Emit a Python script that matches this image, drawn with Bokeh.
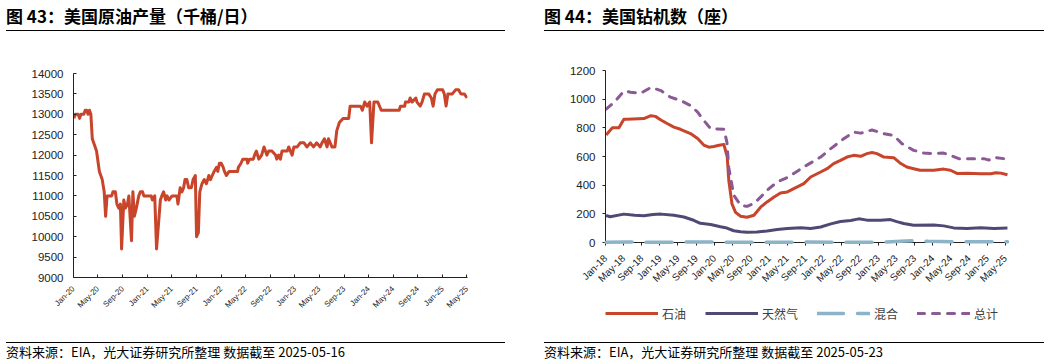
import math
import pandas as pd
from bokeh.plotting import figure
from bokeh.models import (FixedTicker, DatetimeTickFormatter, Range1d, Legend,
                          LegendItem, Div, Spacer)
from bokeh.layouts import row, column
from bokeh.embed import file_html
from bokeh.resources import INLINE

# ---------------- 图 43: 美国原油产量（千桶/日） ----------------
prod_dates = [
    "2020-01-03", "2020-01-10", "2020-01-24", "2020-01-31", "2020-02-07", "2020-02-21",
    "2020-02-28", "2020-03-06", "2020-03-13", "2020-03-20", "2020-03-27", "2020-04-03",
    "2020-04-24", "2020-05-08", "2020-05-22", "2020-06-01", "2020-06-08", "2020-06-15",
    "2020-07-08", "2020-07-14", "2020-07-26", "2020-08-03", "2020-08-12", "2020-08-20",
    "2020-08-26", "2020-09-06", "2020-09-14", "2020-09-24", "2020-10-01", "2020-10-14",
    "2020-10-21", "2020-10-28", "2020-11-07", "2020-11-19", "2020-11-27", "2020-12-08",
    "2020-12-14", "2021-01-20", "2021-01-25", "2021-02-06", "2021-02-15", "2021-03-06",
    "2021-03-13", "2021-03-22", "2021-04-01", "2021-04-08", "2021-04-18", "2021-05-03",
    "2021-05-27", "2021-06-01", "2021-06-12", "2021-06-21", "2021-06-29", "2021-07-06",
    "2021-07-15", "2021-07-24", "2021-08-06", "2021-08-15", "2021-08-26", "2021-09-01",
    "2021-09-10", "2021-09-17", "2021-09-28", "2021-10-09", "2021-10-20", "2021-11-01",
    "2021-11-09", "2021-11-18", "2021-11-27", "2021-12-09", "2021-12-15", "2021-12-23",
    "2022-01-01", "2022-01-11", "2022-01-17", "2022-01-27", "2022-02-09", "2022-03-23",
    "2022-03-27", "2022-04-09", "2022-04-18", "2022-05-09", "2022-05-12", "2022-05-21",
    "2022-06-09", "2022-06-15", "2022-06-24", "2022-07-06", "2022-07-20", "2022-08-01",
    "2022-08-15", "2022-08-24", "2022-09-09", "2022-09-27", "2022-10-03", "2022-10-12",
    "2022-10-21", "2022-10-29", "2022-11-24", "2022-12-01", "2022-12-18", "2022-12-27",
    "2023-01-12", "2023-01-27", "2023-02-15", "2023-03-01", "2023-03-18", "2023-04-03",
    "2023-04-18", "2023-05-06", "2023-05-15", "2023-05-27", "2023-06-09", "2023-06-16",
    "2023-07-03", "2023-07-18", "2023-07-27", "2023-08-09", "2023-08-27", "2023-09-24",
    "2023-10-01", "2023-11-21", "2023-12-01", "2023-12-12", "2023-12-24", "2024-01-06",
    "2024-01-15", "2024-01-27", "2024-02-15", "2024-03-03", "2024-05-31", "2024-06-06",
    "2024-06-27", "2024-07-01", "2024-07-18", "2024-07-24", "2024-08-03", "2024-08-21",
    "2024-08-27", "2024-09-12", "2024-09-21", "2024-10-03", "2024-10-24", "2024-11-06",
    "2024-11-15", "2024-11-24", "2024-12-06", "2025-01-01", "2025-01-09", "2025-01-18",
    "2025-01-27", "2025-02-18", "2025-03-06", "2025-03-21", "2025-04-01", "2025-04-18",
    "2025-05-02",
]
prod_kbd = [
    12900, 13000, 13000, 12900, 13000, 13000,
    13100, 13100, 13000, 13100, 13000, 12400,
    12100, 11600, 11400, 11100, 10500, 11000,
    11000, 11100, 11100, 10800, 10700, 10800,
    9700, 10900, 10700, 10800, 11000, 9900,
    11100, 10500, 10700, 11000, 11100, 11100,
    11000, 11000, 10900, 11000, 9700, 10900,
    11000, 11100, 10900, 11000, 10900, 11000,
    11000, 10800, 11200, 11100, 11200, 11400,
    11400, 11200, 11200, 11400, 11500, 10000,
    10100, 11100, 11300, 11400, 11300, 11500,
    11400, 11500, 11600, 11700, 11600, 11800,
    11800, 11700, 11600, 11500, 11600, 11600,
    11700, 11800, 11900, 11900, 11800, 11900,
    11900, 12000, 12100, 11900, 12000, 12200,
    12000, 12100, 12100, 12000, 11900, 12000,
    11900, 12100, 12100, 12200, 12000, 12200,
    12200, 12300, 12300, 12200, 12300, 12200,
    12300, 12200, 12300, 12400, 12200, 12400,
    12200, 12200, 12600, 12800, 12900, 12900,
    13200, 13200, 13100, 13300, 13200, 13300,
    12300, 13300, 13300, 13100, 13100, 13200,
    13200, 13300, 13300, 13400, 13300, 13400,
    13300, 13200, 13300, 13500, 13500, 13400,
    13200, 13500, 13600, 13600, 13500, 13200,
    13500, 13500, 13600, 13600, 13500, 13500,
    13400,
]
prod_ticks = [
    "2020-01-01", "2020-05-01", "2020-09-01", "2021-01-01", "2021-05-01", "2021-09-01",
    "2022-01-01", "2022-05-01", "2022-09-01", "2023-01-01", "2023-05-01", "2023-09-01",
    "2024-01-01", "2024-05-01", "2024-09-01", "2025-01-01", "2025-05-01",
]
prod_yticks = [9000, 9500, 10000, 10500, 11000, 11500, 12000, 12500, 13000, 13500, 14000]
prod_xstart, prod_xend = "2020-01-01", "2025-05-04"

# ---------------- 图 44: 美国钻机数（座） ----------------
oil_dates = [
    "2018-01-05", "2018-02-16", "2018-04-01", "2018-05-04", "2018-05-25", "2018-09-15",
    "2018-11-01", "2018-12-01", "2019-01-07", "2019-02-18", "2019-04-04", "2019-05-18",
    "2019-07-24", "2019-09-10", "2019-10-21", "2019-11-24", "2019-12-27", "2020-02-01",
    "2020-03-04", "2020-03-26", "2020-04-06", "2020-04-27", "2020-05-21", "2020-06-24",
    "2020-08-06", "2020-09-21", "2020-11-06", "2020-12-18", "2021-02-03", "2021-03-18",
    "2021-05-03", "2021-06-15", "2021-08-21", "2021-10-06", "2021-12-12", "2022-01-24",
    "2022-03-09", "2022-04-24", "2022-06-06", "2022-07-21", "2022-09-06", "2022-10-18",
    "2022-11-21", "2022-12-24", "2023-02-09", "2023-04-15", "2023-05-27", "2023-07-12",
    "2023-08-27", "2023-10-09", "2024-01-09", "2024-03-15", "2024-04-29", "2024-06-12",
    "2024-08-18", "2024-11-18", "2025-01-24", "2025-02-27", "2025-04-01", "2025-05-16",
]
oil_rigs = [
    750, 800, 800, 860, 860, 865,
    885, 880, 855, 830, 805, 790,
    760, 725, 680, 665, 670, 678,
    683, 600, 430, 270, 210, 183,
    176, 190, 248, 283, 318, 346,
    353, 376, 411, 457, 492, 515,
    550, 573, 596, 608, 601, 620,
    628, 620, 596, 592, 555, 527,
    515, 504, 504, 512, 504, 482,
    484, 480, 480, 487, 484, 473,
]
gas_dates = [
    "2018-01-05", "2018-02-01", "2018-05-04", "2018-07-15", "2018-09-15", "2018-11-15",
    "2019-01-07", "2019-04-04", "2019-06-10", "2019-08-15", "2019-09-28", "2019-12-06",
    "2020-02-10", "2020-03-24", "2020-05-09", "2020-06-24", "2020-08-06", "2020-10-12",
    "2020-12-18", "2021-02-24", "2021-05-03", "2021-08-01", "2021-10-06", "2021-12-12",
    "2022-02-18", "2022-04-24", "2022-07-01", "2022-08-24", "2022-10-18", "2023-01-18",
    "2023-03-24", "2023-05-06", "2023-06-21", "2023-08-27", "2024-01-09", "2024-03-15",
    "2024-05-21", "2024-08-18", "2024-11-18", "2025-02-15", "2025-05-16",
]
gas_rigs = [
    188, 180, 198, 190, 186, 196,
    198, 190, 178, 155, 134, 126,
    110, 101, 82, 75, 71, 74,
    81, 90, 97, 103, 98, 108,
    130, 146, 154, 165, 156, 155,
    160, 146, 133, 120, 122, 116,
    102, 98, 103, 98, 101,
]
misc_dates = [
    "2018-01-05", "2018-06-01", "2018-12-01", "2019-06-01", "2019-12-01", "2020-04-01",
    "2020-09-01", "2021-03-01", "2021-09-01", "2022-03-01", "2022-09-01", "2023-03-01",
    "2023-06-01", "2023-09-01", "2023-12-01", "2024-06-01", "2024-12-01", "2025-05-16",
]
misc_rigs = [2, 3, 2, 3, 4, 2, 1, 2, 3, 2, 2, 3, 9, 13, 8, 5, 6, 5]
total_dates = [
    "2018-01-05", "2018-03-01", "2018-05-04", "2018-06-18", "2018-08-24", "2018-11-01",
    "2019-01-07", "2019-03-12", "2019-05-18", "2019-07-24", "2019-09-10", "2019-10-21",
    "2019-12-06", "2020-03-04", "2020-03-24", "2020-04-06", "2020-05-09", "2020-06-24",
    "2020-08-06", "2020-09-21", "2020-11-06", "2020-12-18", "2021-02-24", "2021-05-03",
    "2021-08-21", "2021-12-12", "2022-02-18", "2022-05-15", "2022-07-21", "2022-09-06",
    "2022-11-21", "2023-02-09", "2023-04-15", "2023-06-09", "2023-08-27", "2023-11-03",
    "2024-01-09", "2024-03-15", "2024-04-29", "2024-06-24", "2024-09-12", "2024-12-09",
    "2025-01-12", "2025-02-15", "2025-04-21", "2025-05-16",
]
total_rigs = [
    930, 979, 1056, 1049, 1041, 1082,
    1060, 1014, 991, 956, 910, 852,
    794, 790, 700, 520, 330, 260,
    252, 272, 318, 364, 422, 453,
    527, 596, 655, 724, 770, 763,
    785, 759, 747, 690, 643, 624,
    620, 624, 608, 585, 585, 585,
    575, 594, 585, 578,
]
rig_ticks = [
    "2018-01-01", "2018-05-01", "2018-09-01", "2019-01-01", "2019-05-01", "2019-09-01",
    "2020-01-01", "2020-05-01", "2020-09-01", "2021-01-01", "2021-05-01", "2021-09-01",
    "2022-01-01", "2022-05-01", "2022-09-01", "2023-01-01", "2023-05-01", "2023-09-01",
    "2024-01-01", "2024-05-01", "2024-09-01", "2025-01-01", "2025-05-01",
]
rig_yticks = [0, 200, 400, 600, 800, 1000, 1200]
rig_xstart, rig_xend = "2018-01-01", "2025-05-23"

legend_labels = ["石油", "天然气", "混合", "总计"]

title1 = "图 43：美国原油产量（千桶/日）"
title2 = "图 44：美国钻机数（座）"
source1 = "资料来源：EIA，光大证券研究所整理 数据截至 2025-05-16"
source2 = "资料来源：EIA，光大证券研究所整理 数据截至 2025-05-23"

# ---------------- styling ----------------
RED = "#C8442A"
GAS = "#4E4A74"
MIX = "#8CB3C7"
TOT = "#8B5A95"
AX = "#222222"
CJK = "Noto Sans CJK SC"
LAT = "Liberation Sans"

STYLES = {
    "oil": dict(line_color=RED, line_width=3, line_join="round"),
    "gas": dict(line_color=GAS, line_width=3, line_join="round"),
    "mix": dict(line_color=MIX, line_width=3.5, line_dash="26 14", line_cap="round"),
    "tot": dict(line_color=TOT, line_width=3, line_dash="7 8", line_cap="round",
                line_join="round"),
}


def ts(dates):
    return pd.to_datetime(dates)


def ms(dates):
    return [pd.Timestamp(d).value / 1e6 for d in dates]


fmt = DatetimeTickFormatter(
    microseconds="%b-%y", milliseconds="%b-%y", seconds="%b-%y", minsec="%b-%y",
    minutes="%b-%y", hourmin="%b-%y", hours="%b-%y", days="%b-%y",
    months="%b-%y", years="%b-%y",
)


def clean(p):
    p.grid.visible = False
    p.outline_line_color = None
    p.background_fill_color = "white"
    p.border_fill_color = "white"


def style_axes(p, tick_in, tick_out, xfont, yfont, xstand, ystand):
    for ax in (p.xaxis[0], p.yaxis[0]):
        ax.axis_line_color = AX
        ax.axis_line_width = 1
        ax.major_tick_line_color = AX
        ax.minor_tick_line_color = None
        ax.major_tick_in = tick_in
        ax.major_tick_out = tick_out
        ax.major_label_text_color = AX
        ax.major_label_text_font = LAT
    p.xaxis[0].major_label_text_font_size = xfont
    p.yaxis[0].major_label_text_font_size = yfont
    p.xaxis[0].major_label_standoff = xstand
    p.yaxis[0].major_label_standoff = ystand
    p.xaxis[0].major_label_orientation = math.pi / 4
    p.xaxis[0].formatter = fmt
    clean(p)


def title_div(text, w):
    html = ('<div style="width:%dpx;height:31px;border-bottom:1px solid #000;'
            'font-family:\'%s\';font-weight:700;font-size:17px;line-height:31px;'
            'white-space:nowrap;color:#000">%s</div>') % (w, CJK, text)
    return Div(text=html, width=w, height=32, margin=0)


def source_div(text, w):
    html = ('<div style="width:%dpx;height:17px;border-top:1px solid #000;'
            'font-family:\'%s\';font-size:13px;line-height:17px;'
            'white-space:nowrap;color:#000">%s</div>') % (w, CJK, text)
    return Div(text=html, width=w, height=18, margin=0)


# ---------------- left chart ----------------
p1 = figure(width=499, height=310, x_axis_type="datetime",
            x_range=Range1d(pd.Timestamp(prod_xstart), pd.Timestamp(prod_xend)),
            y_range=Range1d(prod_yticks[0], prod_yticks[-1]),
            output_backend="svg", toolbar_location=None,
            min_border_left=67, min_border_right=38, min_border_top=41, min_border_bottom=65,
            margin=0)
p1.line(ts(prod_dates), prod_kbd, **STYLES["oil"])
p1.xaxis[0].ticker = FixedTicker(ticks=ms(prod_ticks))
p1.yaxis[0].ticker = FixedTicker(ticks=prod_yticks)
style_axes(p1, 3, 0, "8px", "11.5px", 10, 10)

# ---------------- right chart ----------------
p2 = figure(width=500, height=268, x_axis_type="datetime",
            x_range=Range1d(pd.Timestamp(rig_xstart), pd.Timestamp(rig_xend)),
            y_range=Range1d(rig_yticks[0], rig_yticks[-1]),
            output_backend="svg", toolbar_location=None,
            min_border_left=61, min_border_right=36, min_border_top=38, min_border_bottom=58,
            margin=0)
p2.line(ts(oil_dates), oil_rigs, **STYLES["oil"])
p2.line(ts(gas_dates), gas_rigs, **STYLES["gas"])
p2.line(ts(misc_dates), misc_rigs, level="overlay", **STYLES["mix"])
p2.line(ts(total_dates), total_rigs, **STYLES["tot"])
p2.xaxis[0].ticker = FixedTicker(ticks=ms(rig_ticks))
p2.yaxis[0].ticker = FixedTicker(ticks=rig_yticks)
style_axes(p2, 0, 3, "10px", "11.5px", 11, 7)

# legend strip below the right chart (swatch lines lie outside the visible range)
p3 = figure(width=500, height=42, x_range=Range1d(0, 1), y_range=Range1d(0, 1),
            x_axis_location=None, y_axis_location=None, output_backend="svg",
            toolbar_location=None, min_border=0, min_border_left=52, min_border_right=0,
            min_border_top=3, min_border_bottom=0, margin=0)
clean(p3)
swatches = [p3.line([-5, -4], [-5, -4], **STYLES[k]) for k in ("oil", "gas", "mix", "tot")]
legend = Legend(
    items=[LegendItem(label=lab, renderers=[r]) for lab, r in zip(legend_labels, swatches)],
    orientation="horizontal", location="top_left",
    glyph_width=53, glyph_height=20, label_standoff=4, spacing=19,
    padding=0, margin=0, border_line_color=None, background_fill_alpha=0,
    label_text_font=CJK, label_text_font_size="12px", label_text_color="#404040",
    label_height=20,
)
p3.add_layout(legend)

left = column(title_div(title1, 499), p1, source_div(source1, 499), spacing=0, margin=0)
right = column(title_div(title2, 500), p2, p3, source_div(source2, 500), spacing=0, margin=0)
layout = row(Spacer(width=6, height=10, margin=0), left,
             Spacer(width=39, height=10, margin=0), right, spacing=0, margin=0)

open("out.html", "w").write(file_html(layout, INLINE))
